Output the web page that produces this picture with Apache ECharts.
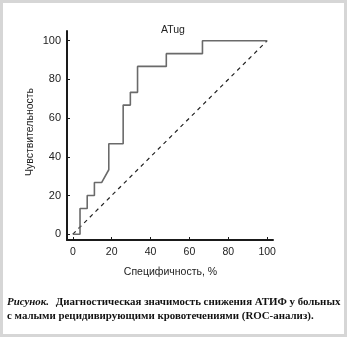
<!DOCTYPE html>
<html>
<head>
<meta charset="utf-8">
<script src="https://cdn.jsdelivr.net/npm/echarts@6/dist/echarts.min.js"></script>
<style>
  html, body { margin: 0; padding: 0; background: #fff; }
  #chart { width: 350px; height: 338px; }
</style>
</head>
<body>
<div id="chart"></div>
<script>
// ROC curve: 100 - specificity (x) vs sensitivity (y), in %
const specificity = [0, 3.7, 3.7, 7.4, 7.4, 11.1, 11.1, 14.8, 18.5, 18.5, 25.9, 25.9, 29.6, 29.6, 33.3, 33.3, 48.1, 48.1, 66.7, 66.7, 100];
const sensitivity = [0, 0, 13.3, 13.3, 20, 20, 26.7, 26.7, 33.3, 46.7, 46.7, 66.7, 66.7, 73.3, 73.3, 86.7, 86.7, 93.3, 93.3, 100, 100];
// reference line (random classifier)
const diagonalX = [0, 100];
const diagonalY = [0, 100];
const tickValues = [0, 20, 40, 60, 80, 100];

const titleText = 'ATug';
const xName = 'Специфичность, %';
const yName = 'Чувствительность';
const captionLead = 'Рисунок.';
const captionLine1 = 'Диагностическая значимость снижения АТИФ у больных';
const captionLine2 = 'с малыми рецидивирующими кровотечениями (ROC-анализ).';

const rocData = specificity.map((v, i) => [v, sensitivity[i]]);
const diagData = diagonalX.map((v, i) => [v, diagonalY[i]]);

const chart = echarts.init(document.getElementById('chart'), null, { renderer: 'canvas' });

const sans = 'Liberation Sans, Arial, sans-serif';
const serif = 'Liberation Serif, Times New Roman, serif';

chart.setOption({
  animation: false,
  backgroundColor: '#ffffff',
  title: {
    text: titleText,
    left: 168, top: 20, textAlign: 'center',
    textStyle: { fontFamily: sans, fontSize: 10.5, fontWeight: 'normal', color: '#222' }
  },
  grid: { left: 67, top: 31, width: 206, height: 209, containLabel: false },
  xAxis: {
    type: 'value', min: -3, max: 103,
    axisLine: { show: true, onZero: false, lineStyle: { color: '#1a1a1a', width: 2 } },
    axisTick: { show: true, inside: true, length: 3, customValues: tickValues, lineStyle: { color: '#1a1a1a', width: 1 } },
    axisLabel: { customValues: tickValues, margin: 7, fontFamily: sans, fontSize: 10.5, color: '#222' },
    splitLine: { show: false }
  },
  yAxis: {
    type: 'value', min: -3, max: 105,
    axisLine: { show: true, onZero: false, lineStyle: { color: '#1a1a1a', width: 2 } },
    axisTick: { show: true, inside: true, length: 3, customValues: tickValues, lineStyle: { color: '#1a1a1a', width: 1 } },
    axisLabel: { customValues: tickValues, margin: 6, fontFamily: sans, fontSize: 11, color: '#222' },
    splitLine: { show: false }
  },
  series: [
    {
      type: 'line', data: rocData, symbol: 'none',
      lineStyle: { color: '#6a6a6a', width: 1.6 },
      z: 3
    },
    {
      type: 'line', data: diagData, symbol: 'none',
      lineStyle: { color: '#222', width: 1.2, type: [4, 4] },
      z: 2
    }
  ],
  graphic: [
    {
      type: 'rect', silent: true, z: 100,
      shape: { x: 1.5, y: 1.5, width: 344, height: 334 },
      style: { fill: null, stroke: '#d6d6d6', lineWidth: 3 }
    },
    {
      type: 'text', rotation: Math.PI / 2, x: 30, y: 132,
      style: { text: yName, font: '10.5px ' + sans, fill: '#222', textAlign: 'center', textVerticalAlign: 'middle' }
    },
    {
      type: 'text', x: 170.5, y: 272.5,
      style: { text: xName, font: '10.5px ' + sans, fill: '#222', textAlign: 'center', textVerticalAlign: 'middle' }
    },
    {
      type: 'text', x: 7, y: 302,
      style: {
        text: '{lead|' + captionLead + '}  {body|' + captionLine1 + '}',
        textVerticalAlign: 'middle',
        rich: {
          lead: { fontFamily: serif, fontSize: 10.9, fontStyle: 'italic', fontWeight: 'bold', fill: '#111' },
          body: { fontFamily: serif, fontSize: 10.9, fontWeight: 'bold', fill: '#111' }
        }
      }
    },
    {
      type: 'text', x: 7, y: 316,
      style: { text: captionLine2, font: 'bold 10.9px ' + serif, fill: '#111', textVerticalAlign: 'middle' }
    }
  ]
});
</script>
</body>
</html>
